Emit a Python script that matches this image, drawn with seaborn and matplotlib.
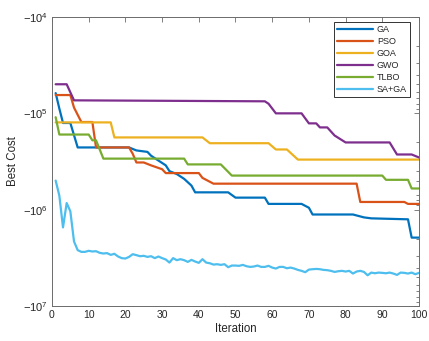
import numpy as np
import pandas as pd
import matplotlib
matplotlib.use("Agg")
import matplotlib.pyplot as plt
import matplotlib.ticker as mticker
import seaborn as sns

# --- data (log10 of |Best Cost|) ---
ga_iter = [1, 2, 3, 5, 7, 21, 23, 26, 27, 29, 31, 32, 34, 36, 38, 39, 48, 50, 58, 59, 68, 70, 71, 82, 85, 87, 97, 98, 100]
ga_exp = [4.79, 4.95, 5.10, 5.10, 5.354, 5.354, 5.385, 5.40, 5.44, 5.49, 5.54, 5.60, 5.63, 5.68, 5.75, 5.82, 5.82,
          5.875, 5.875, 5.94, 5.94, 5.98, 6.05, 6.05, 6.08, 6.09, 6.10, 6.29, 6.29]

pso_iter = [1, 5, 6, 8, 11, 12, 21, 22, 23, 25, 27, 30, 31, 40, 41, 44, 83, 84, 96, 97, 100]
pso_exp = [4.81, 4.81, 4.94, 5.09, 5.09, 5.354, 5.354, 5.42, 5.51, 5.51, 5.54, 5.58, 5.62, 5.62, 5.67, 5.73, 5.73,
           5.92, 5.92, 5.94, 5.94]

goa_iter = [1, 16, 17, 41, 43, 59, 61, 64, 67, 100]
goa_exp = [5.094, 5.094, 5.25, 5.25, 5.31, 5.31, 5.375, 5.375, 5.48, 5.48]

gwo_iter = [1, 4, 6, 58, 59, 61, 68, 70, 72, 73, 75, 77, 80, 92, 94, 98, 100]
gwo_exp = [4.698, 4.698, 4.865, 4.875, 4.90, 5.0, 5.0, 5.104, 5.104, 5.146, 5.146, 5.23, 5.302, 5.302, 5.427,
           5.427, 5.458]

tlbo_iter = [1, 2, 10, 11, 12, 14, 36, 37, 46, 49, 90, 91, 97, 98, 100]
tlbo_exp = [5.04, 5.22, 5.22, 5.28, 5.28, 5.47, 5.47, 5.53, 5.53, 5.646, 5.646, 5.69, 5.69, 5.78, 5.78]

sa_ga_iter = list(range(1, 101))
sa_ga_exp = [5.698, 5.854, 6.184, 5.931, 6.017, 6.330, 6.420, 6.438, 6.438, 6.427,
             6.434, 6.431, 6.448, 6.455, 6.451, 6.469, 6.458, 6.486, 6.503, 6.507,
             6.490, 6.462, 6.472, 6.483, 6.479, 6.490, 6.483, 6.503, 6.486, 6.503,
             6.517, 6.549, 6.503, 6.524, 6.514, 6.524, 6.542, 6.521, 6.538, 6.552,
             6.514, 6.549, 6.556, 6.570, 6.566, 6.573, 6.566, 6.597, 6.580, 6.580,
             6.583, 6.573, 6.587, 6.594, 6.590, 6.580, 6.594, 6.594, 6.583, 6.601,
             6.611, 6.594, 6.594, 6.608, 6.601, 6.611, 6.625, 6.635, 6.649, 6.622,
             6.618, 6.615, 6.618, 6.625, 6.628, 6.635, 6.646, 6.639, 6.635, 6.642,
             6.635, 6.663, 6.642, 6.635, 6.646, 6.681, 6.653, 6.660, 6.653, 6.656,
             6.660, 6.653, 6.663, 6.677, 6.653, 6.656, 6.663, 6.653, 6.670, 6.656]

names = ["GA", "PSO", "GOA", "GWO", "TLBO", "SA+GA"]
colors = ["#0072BD", "#D95319", "#EDB120", "#7E2F8E", "#77AC30", "#4DBEEE"]
series = [(ga_iter, ga_exp), (pso_iter, pso_exp), (goa_iter, goa_exp),
          (gwo_iter, gwo_exp), (tlbo_iter, tlbo_exp), (sa_ga_iter, sa_ga_exp)]

sns.set_style("white")
plt.rcParams["font.family"] = ["Liberation Sans", "DejaVu Sans"]
plt.rcParams["mathtext.default"] = "regular"

TXT = "#262626"
AX = "#6b6b6b"

fig = plt.figure(figsize=(4.29, 3.41), dpi=100)
ax = fig.add_axes([0.1212, 0.1026, 0.8555, 0.8475])

for name, col, (it, ex) in zip(names, colors, series):
    df = pd.DataFrame({"Iteration": it, "cost": np.power(10.0, ex)})
    sns.lineplot(data=df, x="Iteration", y="cost", ax=ax, color=col, lw=1.6,
                 label=name, estimator=None)

ax.set_yscale("log")
ax.set_ylim(1e7, 1e4)
ax.set_xlim(0, 100)
ax.set_xticks(np.arange(0, 101, 10))
ax.yaxis.set_major_locator(mticker.FixedLocator([1e4, 1e5, 1e6, 1e7]))
ax.yaxis.set_major_formatter(mticker.FuncFormatter(lambda v, p: "\u2212" + r"$10^{%d}$" % round(np.log10(v))))
ax.yaxis.set_minor_locator(mticker.LogLocator(base=10, subs=np.arange(2, 10)))
ax.yaxis.set_minor_formatter(mticker.NullFormatter())

ax.tick_params(which="both", direction="in", top=True, right=True, colors=AX, labelcolor=TXT,
               labelsize=7.5, width=0.6)
ax.tick_params(axis="y", which="major", labelsize=8)
ax.tick_params(which="major", length=3.5, pad=3)
ax.tick_params(which="minor", length=2)
for s in ax.spines.values():
    s.set_color(AX)
    s.set_linewidth(0.7)

ax.set_xlabel("Iteration", fontsize=8.3, color=TXT, labelpad=2)
ax.set_ylabel("Best Cost", fontsize=8.3, color=TXT, labelpad=3)

leg = ax.legend(loc="upper right", bbox_to_anchor=(0.976, 0.982), fontsize=6.5, frameon=True,
                fancybox=False, edgecolor="#333333", framealpha=1, handlelength=4.0,
                handletextpad=0.4, labelspacing=0.33, borderpad=0.35, borderaxespad=0)
leg.get_frame().set_linewidth(0.7)
for t in leg.get_texts():
    t.set_color(TXT)

fig.savefig("out.png", dpi=100)
